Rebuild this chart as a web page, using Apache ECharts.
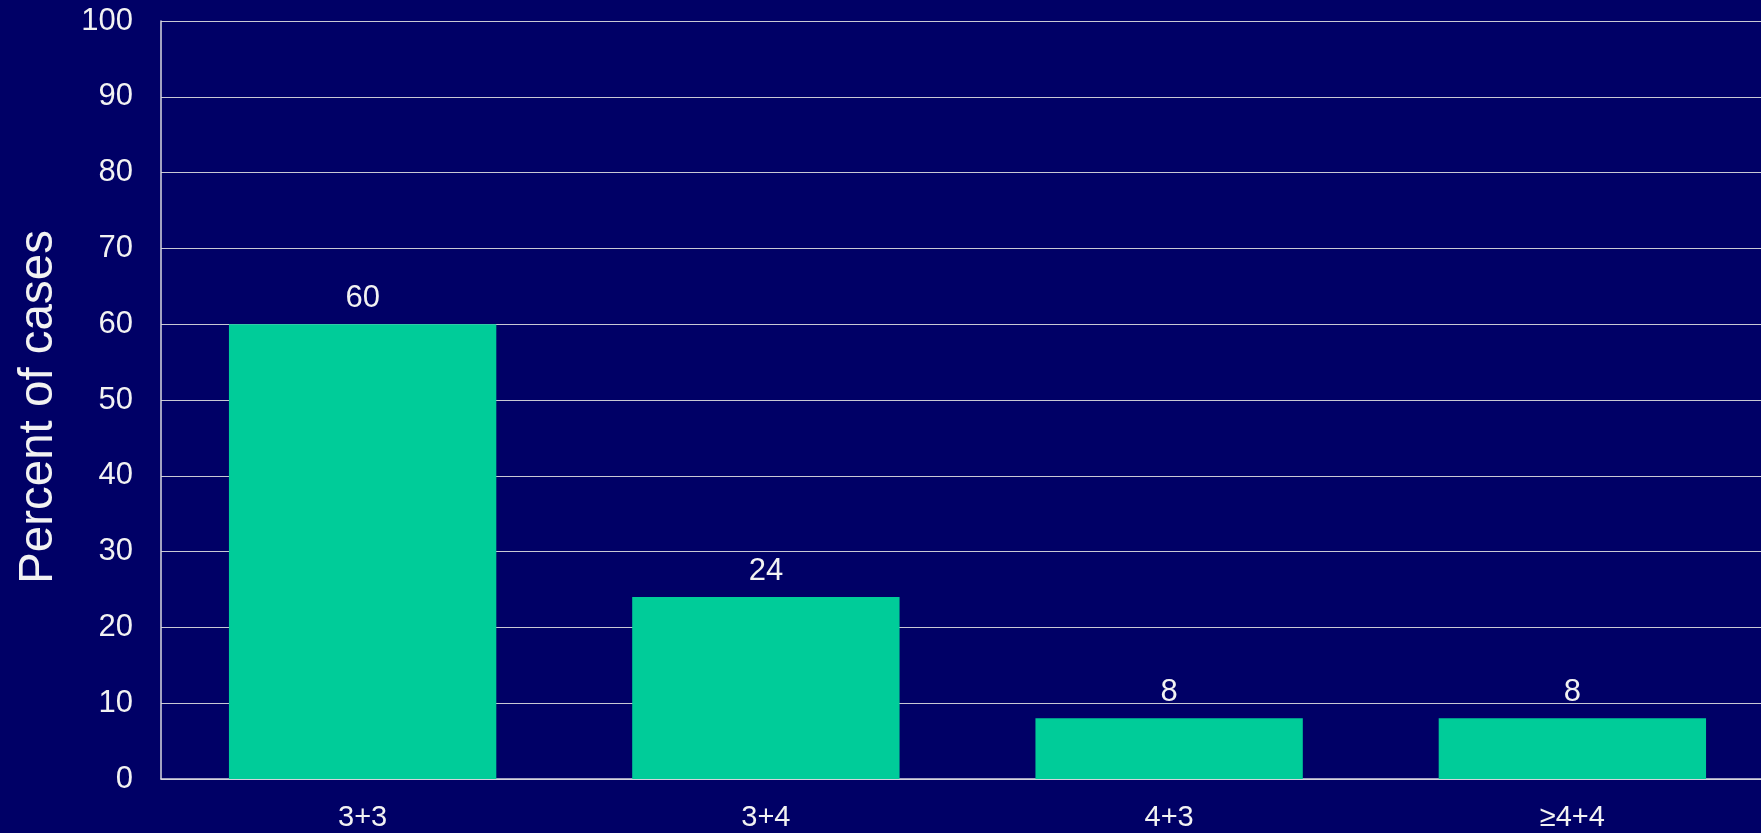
<!DOCTYPE html>
<html>
<head>
<meta charset="utf-8">
<style>
  html, body { margin: 0; padding: 0; background: #000066; overflow: hidden; }
  /* plot runs slightly past the right edge of the window */
  #chart { width: 1774px; height: 833px; }
</style>
<script src="https://cdn.jsdelivr.net/npm/echarts@6/dist/echarts.min.js"></script>
</head>
<body>
<div id="chart"></div>
<script>
// Gleason score categories and share of cases (%)
const categories = ['3+3', '3+4', '4+3', '≥4+4'];
const percentOfCases = [60, 24, 8, 8];
const yAxisTitle = 'Percent of cases';

const FONT = '"Liberation Sans", Arial, sans-serif';
const TEXT = '#f2f2f2';

const chart = echarts.init(document.getElementById('chart'));
chart.setOption({
  backgroundColor: '#000066',
  animation: false,
  grid: { left: 161, right: 0, top: 21, height: 758 },
  xAxis: {
    type: 'category',
    data: categories,
    axisLine: { show: true, lineStyle: { color: '#d8d8e0', width: 1.5 } },
    axisTick: { show: false },
    axisLabel: { color: TEXT, fontFamily: FONT, fontSize: 29, margin: 24 }
  },
  yAxis: {
    type: 'value',
    min: 0,
    max: 100,
    interval: 10,
    name: yAxisTitle,
    nameLocation: 'middle',
    nameGap: 98,
    nameTextStyle: { color: TEXT, fontFamily: FONT, fontSize: 47.5, padding: [0, 14, 0, 0] },
    axisLine: { show: true, lineStyle: { color: '#d8d8e0', width: 1.5 } },
    axisTick: { show: false },
    axisLabel: { color: TEXT, fontFamily: FONT, fontSize: 31, margin: 28 },
    splitLine: { show: true, lineStyle: { color: '#c8c8d4', width: 1.2 } }
  },
  series: [{
    type: 'bar',
    data: percentOfCases,
    barCategoryGap: '33.7%',
    itemStyle: { color: '#00CC99' },
    label: {
      show: true,
      position: 'top',
      distance: 10,
      color: TEXT,
      fontFamily: FONT,
      fontSize: 31
    }
  }]
});
</script>
</body>
</html>
